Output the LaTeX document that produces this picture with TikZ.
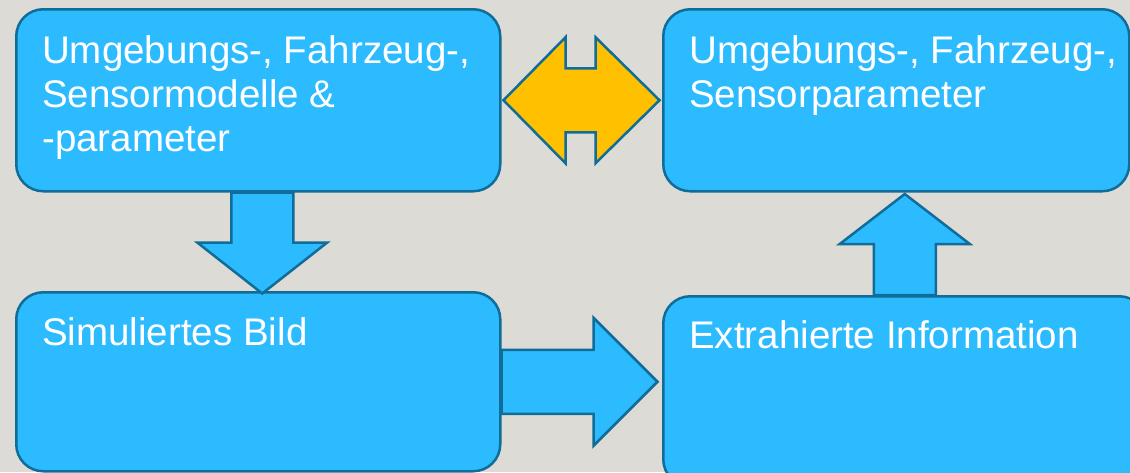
\documentclass[tikz,border=0pt]{standalone}
\usepackage{fontspec}
\setmainfont{Liberation Sans}
\usetikzlibrary{calc}

\definecolor{hintergrund}{RGB}{221,219,213}
\definecolor{kasten}{RGB}{45,187,255}
\definecolor{rand}{RGB}{16,108,152}
\definecolor{gelb}{RGB}{255,192,0}

\tikzset{
  box/.style={draw=rand, fill=kasten, line width=2.5pt, rounded corners=27pt,
    anchor=north west, inner sep=0pt},
  boxtext/.style={anchor=base west, align=left, text=white, inner sep=0pt,
    font=\fontsize{38.5}{44}\selectfont},
  pfeil/.style={draw=rand, fill=kasten, line width=2.5pt, line join=miter},
}

\begin{document}
\begin{tikzpicture}[x=1pt, y=-1pt]
 \useasboundingbox (0,0) rectangle (1130,472);
 \fill[hintergrund] (0,0) rectangle (1130,472);
 \clip (0,0) rectangle (1130,472);

 % boxes
 \node[box, minimum width=484pt, minimum height=182pt] (modell) at (15,8) {};
 \node[box, minimum width=466pt, minimum height=182pt] (param) at (662,8) {};
 \node[box, minimum width=484pt, minimum height=179pt] (sim) at (15,291) {};
 \node[box, minimum width=483pt, minimum height=190pt] (info) at (662,295) {};

 % base anchor sits on the last line
 \node[boxtext] (modelltext) at ($(modell.north west)+(27,143)$)
   {Umgebungs-, Fahrzeug-,\\Sensormodelle \&\\-parameter};
 \node[boxtext] (paramtext) at ($(param.north west)+(27,99)$)
   {Umgebungs-, Fahrzeug-,\\Sensorparameter};
 \node[boxtext] (simtext) at ($(sim.north west)+(27,54)$) {Simuliertes Bild};
 \node[boxtext] (infotext) at ($(info.north west)+(27,53)$) {Extrahierte Information};

 % block arrows
 \coordinate (dn) at ([xshift=4pt]modell.south);
 \draw[pfeil] ([xshift=-31pt]dn) -- ++(0,50) -- ++(-34,0) -- ++(65,51)
   -- ++(65,-51) -- ++(-34,0) -- ([xshift=31pt]dn) -- cycle;
 \draw[pfeil] ([xshift=-31pt]info.north) -- ++(0,-51) -- ++(-34,0) -- ++(65,-50)
   -- ++(65,50) -- ++(-34,0) -- ([xshift=31pt]info.north) -- cycle;
 \draw[pfeil] ([yshift=32pt]sim.east) -- ++(92,0) -- ++(0,-32) -- ++(64,64)
   -- ++(-64,64) -- ++(0,-32) -- ([yshift=-32pt]sim.east) -- cycle;
 \draw[pfeil, fill=gelb] ([xshift=2pt]modell.east) -- ++(62,-63) -- ++(0,31)
   -- ++(30,0) -- ++(0,-31) -- ++(64,63) -- ++(-64,63) -- ++(0,-31)
   -- ++(-30,0) -- ++(0,31) -- cycle;
\end{tikzpicture}
\end{document}
